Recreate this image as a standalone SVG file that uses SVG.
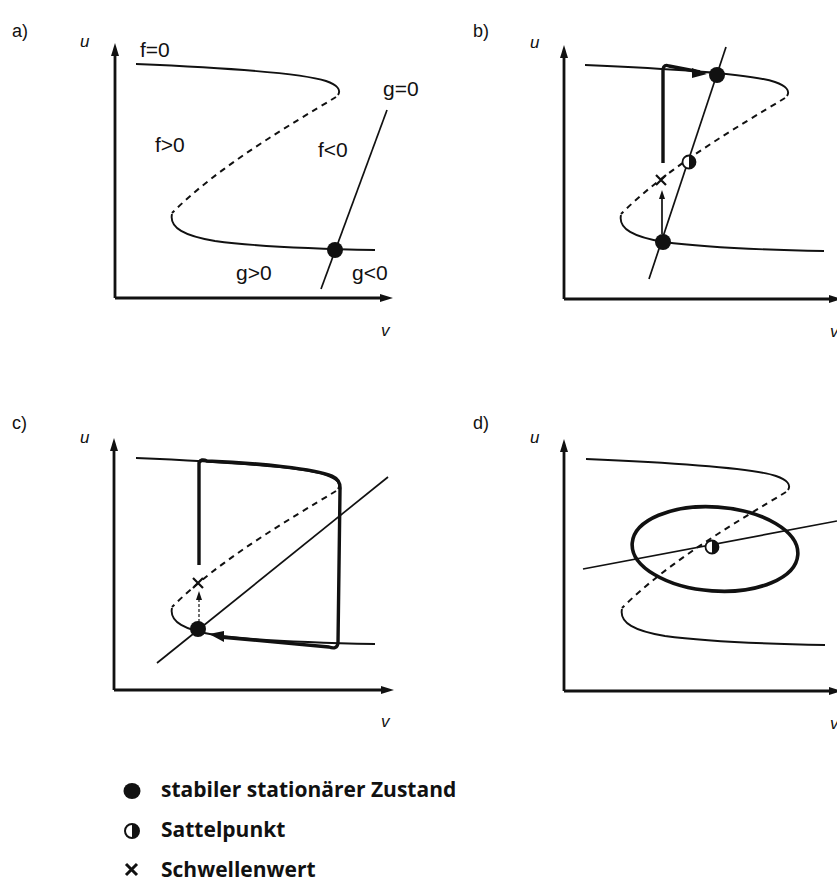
<svg xmlns="http://www.w3.org/2000/svg" width="837" height="890" viewBox="0 0 837 890">
<defs>
<style>
.ax{stroke:#111;stroke-width:2.8;fill:none}
.ah{fill:#111}
.cv{stroke:#111;stroke-width:1.9;fill:none}
.ds{stroke:#111;stroke-width:2;fill:none;stroke-dasharray:6 5}
.gl{stroke:#111;stroke-width:1.7;fill:none}
.tr{stroke:#111;stroke-width:3.4;fill:none;stroke-linejoin:round}
.lb{font-family:"Liberation Sans",Arial,sans-serif;font-size:21px;fill:#111}
.pl{font-family:"Liberation Sans",Arial,sans-serif;font-size:18px;fill:#111}
.ui{font-family:"Liberation Sans",Arial,sans-serif;font-size:17px;font-style:italic;fill:#111}
.lg{font-family:"Open Sans","Noto Sans",sans-serif;font-size:21px;font-weight:bold;fill:#111}
</style>
<g id="scurve">
<path class="cv" d="M136,64 C230,68 305,74 326,81 Q343,87 338,95"/>
<path class="ds" d="M336,97 C290,125 220,165 172,213"/>
<path class="cv" d="M172,214 C169,228 185,236 215,241 C260,247 320,249 375,250"/>
</g>
</defs>

<!-- Panel a -->
<g id="panel-a">
<text class="pl" x="12" y="37">a)</text>
<text class="ui" x="80" y="47">u</text>
<path class="ax" d="M115,298 L115,54 M115,298 L381,298"/>
<polygon class="ah" points="115,43 111,56 119,56"/>
<polygon class="ah" points="393,298 380,294 380,302"/>
<text class="ui" x="381" y="336">v</text>
<use href="#scurve"/>
<line class="gl" x1="387" y1="110" x2="321" y2="289"/>
<circle cx="335" cy="250" r="8" fill="#111"/>
<text class="lb" x="140" y="57">f=0</text>
<text class="lb" x="383" y="96">g=0</text>
<text class="lb" x="155" y="152">f&gt;0</text>
<text class="lb" x="318" y="157">f&lt;0</text>
<text class="lb" x="236" y="280">g&gt;0</text>
<text class="lb" x="352" y="280">g&lt;0</text>
</g>

<!-- Panel b -->
<g id="panel-b">
<text class="pl" x="473" y="37">b)</text>
<text class="ui" x="530" y="48">u</text>
<path class="ax" d="M564,299 L564,56 M564,299 L830,299"/>
<polygon class="ah" points="564,45 560,58 568,58"/>
<polygon class="ah" points="842,299 829,295 829,303"/>
<text class="ui" x="830" y="337">v</text>
<use href="#scurve" transform="translate(449,1)"/>
<line class="gl" x1="726" y1="47" x2="649" y2="279"/>
<path class="tr" d="M663,163 L663,69 Q664,64 669,66 L700,72"/>
<polygon class="ah" points="707,74 692,68 692,78"/>
<line class="gl" x1="662" y1="234" x2="662" y2="198" stroke-width="1.2"/>
<polygon class="ah" points="662,190 659,199 665,199"/>
<path d="M656,175 L666,185 M666,175 L656,185" stroke="#111" stroke-width="2.2" fill="none"/>
<circle cx="717" cy="75" r="8" fill="#111"/>
<circle cx="663" cy="242" r="8" fill="#111"/>
<circle cx="689" cy="162" r="6.5" fill="#fff" stroke="#111" stroke-width="1.8"/>
<path d="M689,155.5 A6.5,6.5 0 0 1 689,168.5 Z" fill="#111"/>
</g>

<!-- Panel c -->
<g id="panel-c">
<text class="pl" x="12" y="429">c)</text>
<text class="ui" x="80" y="443">u</text>
<path class="ax" d="M114,690 L114,449 M114,690 L382,690"/>
<polygon class="ah" points="114,438 110,451 118,451"/>
<polygon class="ah" points="394,690 381,686 381,694"/>
<text class="ui" x="381" y="727">v</text>
<use href="#scurve" transform="translate(0,394)"/>
<line class="gl" x1="388" y1="477" x2="157" y2="663"/>
<path class="tr" d="M199,565 L199,463 Q201,458 207,461 C260,463 315,469 332,476 Q341,480 340,490 L338,643 Q337,650 329,647 L220,637"/>
<polygon class="ah" points="209,634 224,631 224,642"/>
<line x1="199" y1="622" x2="199" y2="598" stroke="#111" stroke-width="1.2" stroke-dasharray="3 2"/>
<polygon class="ah" points="199,591 196,600 202,600"/>
<path d="M193,578 L203,588 M203,578 L193,588" stroke="#111" stroke-width="2.2" fill="none"/>
<circle cx="198" cy="629" r="8" fill="#111"/>
</g>

<!-- Panel d -->
<g id="panel-d">
<text class="pl" x="473" y="429">d)</text>
<text class="ui" x="530" y="443">u</text>
<path class="ax" d="M564,691 L564,450 M564,691 L830,691"/>
<polygon class="ah" points="564,439 560,452 568,452"/>
<polygon class="ah" points="842,691 829,687 829,695"/>
<text class="ui" x="830" y="729">v</text>
<use href="#scurve" transform="translate(450,395)"/>
<line class="gl" x1="583" y1="569" x2="837" y2="521"/>
<ellipse cx="715" cy="549" rx="83" ry="42" transform="rotate(4 715 549)" fill="none" stroke="#111" stroke-width="3.6"/>
<circle cx="712" cy="547" r="6.5" fill="#fff" stroke="#111" stroke-width="1.8"/>
<path d="M712,540.5 A6.5,6.5 0 0 1 712,553.5 Z" fill="#111"/>
</g>

<!-- Legend -->
<g id="legend">
<ellipse cx="132" cy="791" rx="8.5" ry="8" fill="#111"/>
<text class="lg" x="161" y="797">stabiler stationärer Zustand</text>
<circle cx="132" cy="831" r="7" fill="#fff" stroke="#111" stroke-width="2"/>
<path d="M132,824 A7,7 0 0 1 132,838 Z" fill="#111"/>
<text class="lg" x="161" y="837">Sattelpunkt</text>
<path d="M126,864 L137,875 M137,864 L126,875" stroke="#111" stroke-width="3" fill="none"/>
<text class="lg" x="161" y="877">Schwellenwert</text>
</g>
</svg>
